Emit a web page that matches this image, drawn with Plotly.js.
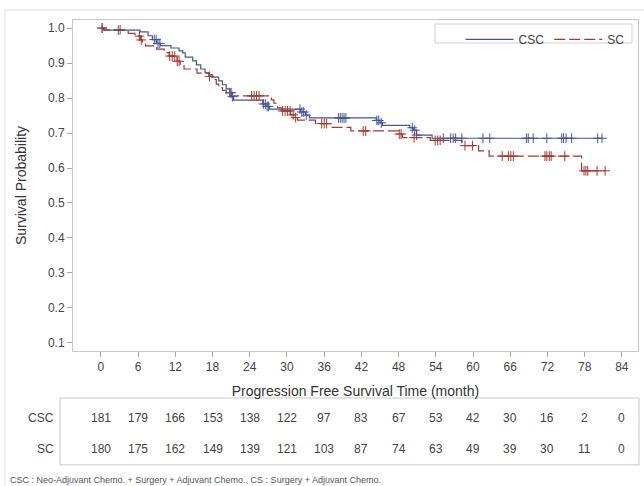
<!DOCTYPE html>
<html>
<head>
<meta charset="utf-8">
<script src="https://cdn.plot.ly/plotly-3.0.1.min.js"></script>
<style>html,body{margin:0;padding:0;background:#fff;}#chart{width:644px;height:486px;}</style>
</head>
<body>
<div id="chart"></div>
<script>
// ---- Data ----
const stepTimesCSC = [0, 0.5, 6.3, 7.6, 8.3, 9.0, 9.6, 11.3, 12.6, 13.2, 13.6, 14.8, 15.4, 16.1, 16.8, 17.5, 18.0, 19.0, 19.6, 20.2, 20.8, 21.1, 21.4, 26.1, 26.6, 27.2, 32.2, 33.0, 33.6, 44.4, 45.0, 45.4, 49.8, 50.4, 50.9, 53.4];
const survCSC      = [1.0, 0.994, 0.989, 0.978, 0.967, 0.956, 0.950, 0.943, 0.935, 0.929, 0.917, 0.906, 0.895, 0.883, 0.872, 0.866, 0.860, 0.849, 0.838, 0.826, 0.815, 0.804, 0.794, 0.783, 0.776, 0.768, 0.760, 0.751, 0.743, 0.736, 0.729, 0.722, 0.715, 0.708, 0.694, 0.685];
const censorCSC    = [0.2, 2.8, 8.6, 8.9, 9.2, 9.5, 20.8, 21.0, 21.2, 26.2, 26.5, 26.8, 27.0, 32.1, 32.4, 32.7, 33.1, 38.3, 38.6, 38.9, 39.2, 39.5, 44.5, 44.8, 45.2, 50.2, 50.6, 50.9, 55.2, 56.4, 56.8, 57.2, 58.2, 61.6, 62.7, 68.6, 68.9, 69.7, 71.9, 74.3, 74.6, 75.0, 75.9, 80.1, 80.8];

const stepTimesSC = [0, 0.4, 4.4, 5.5, 6.4, 6.7, 7.2, 9.0, 10.2, 11.0, 12.3, 12.8, 13.4, 15.5, 17.4, 17.9, 18.6, 19.0, 19.6, 20.2, 20.8, 27.5, 27.9, 28.5, 29.2, 30.6, 31.2, 31.7, 34.6, 37.0, 40.3, 48.0, 48.6, 53.1, 58.2, 60.9, 62.6, 77.5];
const survSC      = [1.0, 0.995, 0.985, 0.977, 0.966, 0.957, 0.949, 0.940, 0.930, 0.920, 0.905, 0.893, 0.883, 0.871, 0.862, 0.853, 0.840, 0.830, 0.822, 0.814, 0.806, 0.795, 0.785, 0.772, 0.763, 0.752, 0.744, 0.737, 0.727, 0.716, 0.706, 0.697, 0.687, 0.679, 0.664, 0.649, 0.634, 0.592];
const censorSC    = [0.2, 3.1, 6.2, 6.5, 11.1, 11.5, 11.9, 12.3, 12.6, 17.5, 24.3, 24.7, 25.1, 25.5, 29.3, 29.7, 30.1, 30.5, 31.0, 31.4, 35.6, 36.0, 36.4, 42.3, 42.7, 48.1, 48.4, 50.5, 53.9, 54.3, 54.7, 58.7, 59.9, 64.7, 65.7, 66.1, 66.5, 71.6, 71.9, 72.3, 72.6, 74.8, 77.9, 78.2, 78.5, 80.0, 81.3];

const atRiskTimes = [0, 6, 12, 18, 24, 30, 36, 42, 48, 54, 60, 66, 72, 78, 84];
const atRiskCSC   = [181, 179, 166, 153, 138, 122, 97, 83, 67, 53, 42, 30, 16, 2, 0];
const atRiskSC    = [180, 175, 162, 149, 139, 121, 103, 87, 74, 63, 49, 39, 30, 11, 0];

const groupNames = ['CSC', 'SC'];
const footnote = 'CSC : Neo-Adjuvant Chemo. + Surgery + Adjuvant Chemo., CS : Surgery + Adjuvant Chemo.';

// ---- Helpers ----
function survAt(times, surv, t) {
  let s = surv[0];
  for (let i = 0; i < times.length; i++) { if (times[i] <= t) s = surv[i]; }
  return s;
}
function stepLine(times, surv, tEnd) {
  return { x: times.concat([tEnd]), y: surv.concat([surv[surv.length - 1]]) };
}

const BLUE = '#445694', RED = '#A23A2E';
const lc = stepLine(stepTimesCSC, survCSC, censorCSC[censorCSC.length - 1]);
const ls = stepLine(stepTimesSC, survSC, censorSC[censorSC.length - 1]);

const traces = [
  { x: lc.x, y: lc.y, type: 'scatter', mode: 'lines', name: groupNames[0], line: { shape: 'hv', color: BLUE, width: 1.2 } },
  { x: ls.x, y: ls.y, type: 'scatter', mode: 'lines', name: groupNames[1], line: { shape: 'hv', color: RED, width: 1.2, dash: '11px,4px' } },
  { x: censorCSC, y: censorCSC.map(t => survAt(stepTimesCSC, survCSC, t)), type: 'scatter', mode: 'markers', showlegend: false, hoverinfo: 'skip',
    marker: { symbol: 'cross-thin-open', size: 7, color: BLUE, line: { color: BLUE, width: 1 } } },
  { x: censorSC, y: censorSC.map(t => survAt(stepTimesSC, survSC, t)), type: 'scatter', mode: 'markers', showlegend: false, hoverinfo: 'skip',
    marker: { symbol: 'cross-thin-open', size: 7, color: RED, line: { color: RED, width: 1 } } }
];

const annotations = [];
const rowY = [-0.202, -0.296];
[atRiskCSC, atRiskSC].forEach((row, r) => {
  annotations.push({ x: -0.030, xref: 'paper', y: rowY[r], yref: 'paper', text: groupNames[r], showarrow: false, xanchor: 'right', yanchor: 'middle', font: { size: 12, color: '#444' } });
  row.forEach((v, i) => {
    annotations.push({ x: atRiskTimes[i], xref: 'x', y: rowY[r], yref: 'paper', text: String(v), showarrow: false, xanchor: 'center', yanchor: 'middle', font: { size: 12, color: '#444' } });
  });
});
annotations.push({ x: -0.115, xref: 'paper', y: -0.390, yref: 'paper', text: footnote, showarrow: false, xanchor: 'left', yanchor: 'middle', font: { size: 9, color: '#555' } });

const layout = {
  width: 644, height: 486,
  margin: { l: 73, r: 6, t: 20, b: 135 },
  paper_bgcolor: '#fff', plot_bgcolor: '#fff',
  font: { family: 'Liberation Sans, Arial, sans-serif', color: '#444', size: 12 },
  showlegend: true,
  legend: { orientation: 'h', x: 0.985, xanchor: 'right', y: 0.985, yanchor: 'top', bgcolor: 'rgba(0,0,0,0)', borderwidth: 0, itemwidth: 48, font: { size: 12, color: '#444' } },
  xaxis: {
    range: [-4.5, 86.6], tick0: 0, dtick: 6, ticks: 'outside', ticklen: 5, tickcolor: '#aaa',
    showline: true, linecolor: '#c8c8c8', linewidth: 1, mirror: true, showgrid: false, zeroline: false,
    tickfont: { size: 12, color: '#444' },
    title: { text: 'Progression Free Survival Time (month)', font: { size: 14, color: '#333' }, standoff: 12 }
  },
  yaxis: {
    range: [0.077, 1.023], tick0: 0.1, dtick: 0.1, tickformat: '.1f', ticks: 'outside', ticklen: 5, tickcolor: '#aaa',
    showline: true, linecolor: '#c8c8c8', linewidth: 1, mirror: true, showgrid: false, zeroline: false,
    tickfont: { size: 12, color: '#444' },
    title: { text: 'Survival Probability', font: { size: 14, color: '#333' }, standoff: 18 }
  },
  shapes: [
    { type: 'rect', xref: 'paper', yref: 'paper', x0: 0.6407, x1: 0.9894, y0: 0.9305, y1: 0.9879, line: { color: '#d0d0d0', width: 1 }, fillcolor: 'rgba(0,0,0,0)' },
    { type: 'rect', xref: 'paper', yref: 'paper', x0: -0.023, x1: 1.0018, y0: -0.344, y1: -0.142, line: { color: '#c8c8c8', width: 1 }, fillcolor: 'rgba(0,0,0,0)' },
    { type: 'line', xref: 'paper', yref: 'paper', x0: -0.1204, x1: 1.02, y0: 1.030, y1: 1.030, line: { color: '#e0e0e0', width: 1 } },
    { type: 'line', xref: 'paper', yref: 'paper', x0: -0.1204, x1: -0.1204, y0: 1.030, y1: -0.41, line: { color: '#e0e0e0', width: 1 } }
  ],
  annotations: annotations
};

Plotly.newPlot('chart', traces, layout, { displayModeBar: false, staticPlot: true });
</script>
</body>
</html>
